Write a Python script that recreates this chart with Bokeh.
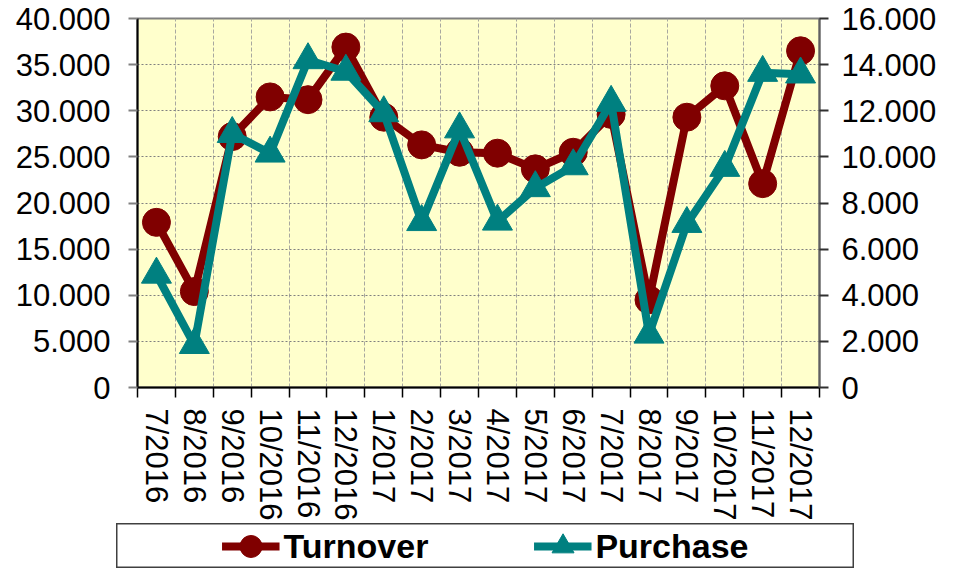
from bokeh.plotting import figure
from bokeh.models import (Range1d, LinearAxis, FixedTicker, ColumnDataSource,
                          Legend, LegendItem, Spacer)
from bokeh.layouts import column, row
from bokeh.embed import file_html
from bokeh.resources import INLINE

# ---------------- data ----------------
months = ["7/2016", "8/2016", "9/2016", "10/2016", "11/2016", "12/2016",
          "1/2017", "2/2017", "3/2017", "4/2017", "5/2017", "6/2017",
          "7/2017", "8/2017", "9/2017", "10/2017", "11/2017", "12/2017"]
turnover = [17900, 10400, 27200, 31500, 31200, 36900,
            29300, 26300, 25500, 25400, 23700, 25500,
            29600, 9500, 29300, 32700, 22100, 36500]
purchase = [4900, 1850, 11000, 10150, 14200, 13700,
            11900, 7180, 11200, 7200, 8650, 9600,
            12350, 2300, 7100, 9530, 13650, 13580]
left_ticks = [0, 5000, 10000, 15000, 20000, 25000, 30000, 35000, 40000]
right_ticks = [0, 2000, 4000, 6000, 8000, 10000, 12000, 14000, 16000]


def dotted(v):
    return f"{v:,}".replace(",", ".")


MAROON = "#800000"
TEAL = "#008080"
FONT = "Liberation Sans"

n = len(months)
x_center = [i + 0.5 for i in range(n)]
boundaries = list(range(n + 1))

src = ColumnDataSource(dict(x=x_center, month=months,
                            turnover=turnover, purchase=purchase))

p = figure(width=939, height=523, output_backend="svg", toolbar_location=None,
           x_range=Range1d(0, n), y_range=Range1d(0, left_ticks[-1]),
           min_border_left=137, min_border_right=117,
           min_border_top=18, min_border_bottom=133)
p.extra_y_ranges = {"purchase": Range1d(0, right_ticks[-1])}

p.background_fill_color = "#FFFFCC"
p.border_fill_color = "white"
p.outline_line_color = "#808080"
p.outline_line_width = 2

# left axis
ya = p.yaxis[0]
ya.ticker = FixedTicker(ticks=left_ticks)
ya.major_label_overrides = {t: dotted(t) for t in left_ticks}
ya.axis_line_color = "black"
ya.axis_line_width = 2
ya.major_tick_out = 9
ya.major_tick_in = 0
ya.major_tick_line_color = "#808080"
ya.major_tick_line_width = 2
ya.minor_tick_line_color = None
ya.major_label_standoff = 18
ya.major_label_text_font = FONT
ya.major_label_text_font_size = "31px"
ya.major_label_text_color = "black"

# right axis
ra = LinearAxis(y_range_name="purchase", ticker=FixedTicker(ticks=right_ticks))
ra.major_label_overrides = {t: dotted(t) for t in right_ticks}
ra.axis_line_color = "#606060"
ra.axis_line_width = 2
ra.major_tick_out = 9
ra.major_tick_in = 0
ra.major_tick_line_color = "#303030"
ra.major_tick_line_width = 2
ra.minor_tick_line_color = None
ra.major_label_standoff = 13
ra.major_label_text_font = FONT
ra.major_label_text_font_size = "31px"
ra.major_label_text_color = "black"
p.add_layout(ra, "right")

# bottom axis (labels at category centres, ticks at boundaries)
xa = p.xaxis[0]
xa.ticker = FixedTicker(ticks=x_center, minor_ticks=boundaries)
xa.major_label_overrides = {float(x): m for x, m in zip(x_center, months)}
xa.major_label_orientation = "vertical"
xa.major_tick_line_color = None
xa.major_tick_out = 10
xa.major_tick_in = 0
xa.minor_tick_out = 10
xa.minor_tick_in = 0
xa.minor_tick_line_color = "black"
xa.minor_tick_line_width = 1.5
xa.axis_line_color = "black"
xa.axis_line_width = 2
xa.major_label_standoff = 11
xa.major_label_text_font = FONT
xa.major_label_text_font_size = "31px"
xa.major_label_text_color = "black"

# grids
p.xgrid[0].ticker = FixedTicker(ticks=boundaries)
p.xgrid.grid_line_color = "#a8a8a0"
p.xgrid.grid_line_dash = "4 2"
p.xgrid.grid_line_width = 1
p.ygrid.grid_line_color = "#808080"
p.ygrid.grid_line_dash = "2 2"
p.ygrid.grid_line_width = 1

# series
p.line("x", "turnover", source=src, line_color=MAROON, line_width=8,
       line_join="round")
p.scatter("x", "turnover", source=src, marker="circle", size=28,
          fill_color=MAROON, line_color=MAROON)
p.line("x", "purchase", source=src, y_range_name="purchase",
       line_color=TEAL, line_width=8, line_join="round")
p.scatter("x", "purchase", source=src, y_range_name="purchase",
          marker="triangle", size=30, fill_color=TEAL, line_color=TEAL)

# ---------------- legend panel ----------------
lf = figure(width=738, height=45, output_backend="svg", toolbar_location=None,
            x_axis_type=None, y_axis_type=None, min_border=0)
lf.grid.visible = False
lf.outline_line_color = "#404040"
lf.outline_line_width = 2
lf.background_fill_color = "white"
lf.border_fill_color = "white"

# hidden copies of the series, used only for the legend glyphs
l1 = lf.line("x", "turnover", source=src, line_color=MAROON, line_width=8,
             visible=False)
m1 = lf.scatter("x", "turnover", source=src, marker="circle",
                fill_color=MAROON, line_color=MAROON, visible=False)
l2 = lf.line("x", "purchase", source=src, line_color=TEAL, line_width=8,
             visible=False)
m2 = lf.scatter("x", "purchase", source=src, marker="triangle",
                fill_color=TEAL, line_color=TEAL, visible=False)

legend = Legend(items=[LegendItem(label="Turnover", renderers=[l1, m1]),
                       LegendItem(label="Purchase", renderers=[l2, m2])],
                orientation="horizontal", location="center",
                border_line_color=None, background_fill_alpha=0,
                padding=0, margin=0, spacing=105,
                glyph_width=58, glyph_height=55, label_standoff=4,
                label_text_font=FONT, label_text_font_style="bold",
                label_text_font_size="34px", label_text_color="black")
lf.add_layout(legend, "center")

layout = column(p, row(Spacer(width=116, height=45), lf))

open("out.html", "w").write(file_html(layout, INLINE))
